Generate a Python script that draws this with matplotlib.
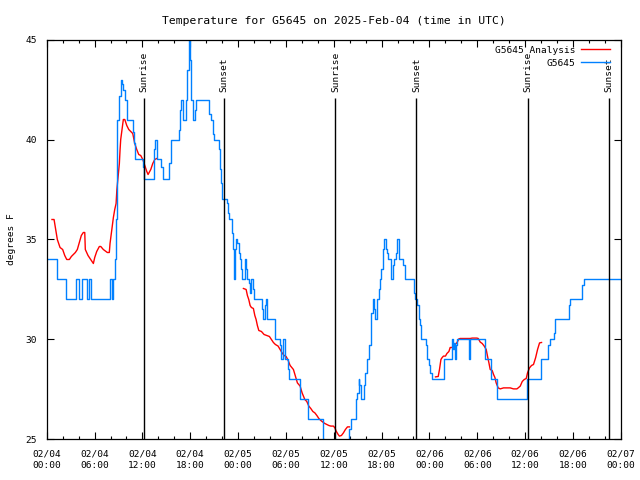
import numpy as np
import matplotlib
matplotlib.use("Agg")
import matplotlib.pyplot as plt

# hours since 2025-02-04 00:00 UTC
blue_hours = [0, 1.29, 2.36, 3.61, 4.05, 4.37, 4.99, 5.24, 5.5, 7.94, 8.13, 8.26, 8.57, 8.63,
              8.78, 9.03, 9.28, 9.45, 9.54, 9.79, 10.04, 10.11, 10.87, 10.95, 11.04, 12.12,
              12.21, 13.46, 13.55, 13.8, 14.38, 14.63, 15.38, 15.63, 16.56, 16.72, 16.81,
              17.06, 17.48, 17.64, 17.82, 17.89, 17.98, 18.07, 18.14, 18.39, 18.57, 18.73,
              20.4, 20.65, 20.9, 20.99, 21.66, 21.74, 21.91, 22.03, 22.58, 22.75, 22.91,
              23.21, 23.41, 23.54, 23.63, 23.75, 23.91, 24.09, 24.25, 24.38, 24.54, 24.88,
              25.01, 25.17, 25.34, 25.51, 25.6, 25.85, 26.01, 27.05, 27.1, 27.43, 27.52,
              27.68, 28.61, 29.27, 29.44, 29.61, 29.94, 30.28, 30.4, 31.78, 32.82, 34.63,
              34.75, 37.97, 38.14, 38.81, 38.97, 39.15, 39.22, 39.47, 39.81, 39.98, 40.15,
              40.48, 40.65, 40.73, 40.9, 41.07, 41.23, 41.48, 41.66, 41.82, 41.98, 42.16,
              42.32, 42.57, 42.66, 42.82, 43.16, 43.24, 43.41, 43.58, 43.83, 43.99, 44.17,
              44.24, 44.74, 44.92, 46.09, 46.25, 46.5, 46.68, 46.84, 47.0, 47.59, 47.75,
              47.93, 48.09, 48.26, 49.85, 50.85, 50.94, 51.02, 51.19, 51.27, 51.44, 52.95,
              53.02, 53.11, 54.96, 55.71, 55.78, 56.46, 60.23, 61.98, 62.9, 63.06, 63.65,
              63.81, 65.5, 65.57, 67.16, 67.33, 72]
blue_temps = [34, 33, 32, 33, 32, 33, 32, 33, 32, 33, 32, 33, 34, 36,
              41, 42.2, 43, 42.8, 42.5, 42, 41.3, 41, 40.4, 39.8, 39, 38.6,
              38, 39.5, 40, 39, 38.6, 38, 38.8, 40, 40.5, 41.5, 42,
              41, 42, 43.5, 44.5, 45, 44, 43, 42, 41, 41.5, 42,
              41.3, 41, 40.3, 40, 39.5, 38.5, 37.8, 37, 36.8, 36.3, 36,
              35.3, 34.5, 33, 34.5, 35, 34.8, 34.3, 34, 33.5, 33, 34,
              33.5, 33, 32.8, 32.3, 33, 32.5, 32, 31.5, 31, 31.7, 32,
              31, 30, 29.7, 29, 30, 29, 28.5, 28, 27, 26, 25,
              24, 25.5, 26, 27, 27.3, 28, 27.7, 27, 27.7, 28.3, 29,
              29.7, 30.5, 31.3, 32, 31.5, 31, 32, 32.5, 33, 33.5, 34.5,
              35, 34.5, 34.3, 34, 33.3, 33, 33.7, 34, 34.3, 35, 34.3,
              34, 33.7, 33, 32.3, 32, 31.7, 31, 30.7, 30, 29.7, 29,
              28.7, 28.3, 28, 29, 30, 29.5, 29.8, 29, 29.7, 30, 29.5,
              29, 30, 29, 28.3, 28, 27, 28, 29, 29.7, 30, 30.3,
              31, 31.7, 32, 32.7, 33, 33]

# analysis series, nan marks a gap
red_hours = [0.66, 0.92, 1.08, 1.33, 1.5, 1.67, 2.0, 2.26, 2.51, 2.84, 3.09, 3.59, 3.84, 4.09,
             4.34, 4.59, 4.77, 4.84, 5.18, 5.52, 5.85, 6.02, 6.27, 6.6, 6.78, 7.1, 7.6, 7.85,
             7.94, 8.19, 8.36, 8.53, 8.7, 8.8, 8.99, 9.11, 9.2, 9.28, 9.45, 9.61, 9.79, 10.04,
             10.29, 10.54, 10.79, 11.04, 11.29, 11.54, 11.79, 12.05, 12.3, 12.55, 12.71, 13.05,
             13.3, 13.55, 13.8, np.nan,
             24.67, 25.01, 25.17, 25.34, 25.51, 25.67, 25.92, 26.1, 26.26, 26.42, 26.6, 26.93,
             27.26, 27.6, 27.93, 28.18, 28.43, 28.68, 29.02, 29.27, 29.52, 29.77, 30.03, 30.28,
             30.53, 30.94, 31.19, 31.44, 31.78, 32.03, 32.37, 32.62, 32.87, 33.12, 33.38, 33.63,
             33.88, 34.13, 34.38, 34.63, 34.88, 35.13, 35.38, 35.63, 35.96, 36.14, 36.3, 36.55,
             36.71, 36.96, 37.21, 37.46, 37.72, 37.97, np.nan,
             48.76, 49.1, 49.26, 49.44, 49.6, 49.76, 50.01, 50.19, 50.44, 50.6, 50.85, 51.02,
             51.19, 51.44, 51.69, 51.86, 53.11, 53.36, 53.95, 54.12, 54.37, 54.62, 54.87, 55.12,
             55.28, 55.46, 55.62, 55.87, 56.04, 56.21, 56.37, 56.62, 56.88, 57.29, 58.13, 58.54,
             58.97, 59.13, 59.39, 59.64, 59.89, 60.14, 60.3, 60.55, 60.8, 61.05, 61.31, 61.56,
             61.81, 62.06]
red_temps = [36.0, 36.0, 35.6, 35.0, 34.8, 34.6, 34.5, 34.2, 34.0, 34.0, 34.15, 34.35, 34.5, 34.85,
             35.2, 35.35, 35.35, 34.5, 34.2, 34.0, 33.8, 34.1, 34.4, 34.65, 34.65, 34.5, 34.35, 34.35,
             34.8, 35.6, 36.1, 36.5, 36.8, 37.5, 38.3, 38.8, 39.5, 40.0, 40.5, 41.0, 41.0, 40.7,
             40.5, 40.4, 40.3, 39.8, 39.5, 39.25, 39.2, 39.0, 38.7, 38.4, 38.25, 38.5,
             38.8, 39.0, 39.05, np.nan,
             32.55, 32.5, 32.2, 32.0, 31.7, 31.6, 31.55, 31.2, 31.0, 30.7, 30.45, 30.4,
             30.25, 30.2, 30.15, 30.0, 29.85, 29.75, 29.67, 29.5, 29.33, 29.2, 29.15, 28.95,
             28.7, 28.5, 28.17, 27.83, 27.67, 27.33, 27.0, 26.9, 26.67, 26.55, 26.4, 26.33,
             26.2, 26.05, 25.95, 25.87, 25.8, 25.75, 25.7, 25.67, 25.67, 25.58, 25.42, 25.25,
             25.17, 25.2, 25.33, 25.5, 25.63, 25.63, np.nan,
             28.13, 28.15, 28.5, 29.0, 29.1, 29.17, 29.17, 29.3, 29.4, 29.6, 29.6, 29.7,
             29.75, 29.83, 30.03, 30.05, 30.05, 30.07, 30.07, 30.05, 29.87, 29.8, 29.67, 29.5,
             29.17, 28.83, 28.5, 28.45, 28.25, 28.1, 27.83, 27.58, 27.53, 27.58, 27.58, 27.53,
             27.53, 27.58, 27.67, 27.9, 28.0, 28.05, 28.33, 28.58, 28.7, 28.75, 29.08, 29.5,
             29.83, 29.85]

sunrise_hours = [12.21, 36.21, 60.3]
sunset_hours = [22.28, 46.37, 70.46]

tick_hours = list(range(0, 73, 6))
tick_labels = ["02/04\n00:00", "02/04\n06:00", "02/04\n12:00", "02/04\n18:00",
               "02/05\n00:00", "02/05\n06:00", "02/05\n12:00", "02/05\n18:00",
               "02/06\n00:00", "02/06\n06:00", "02/06\n12:00", "02/06\n18:00",
               "02/07\n00:00"]

plt.rcParams['font.family'] = ['DejaVu Sans Mono']
plt.rcParams['font.size'] = 6.8

fig = plt.figure(figsize=(6.4, 4.8), dpi=100)
ax = fig.add_axes([0.073, 0.0844, 0.897, 0.8333])

ax.plot(red_hours, red_temps, color='#ff0000', lw=1.0, label='G5645 Analysis')
ax.plot(blue_hours, blue_temps, color='#0080ff', lw=1.0, drawstyle='steps-post', label='G5645')

for t in sunrise_hours:
    ax.vlines(t, 25, 42.1, color='black', lw=1.0)
    ax.text(t, 42.4, 'Sunrise', rotation=90, ha='center', va='bottom')
for t in sunset_hours:
    ax.vlines(t, 25, 42.1, color='black', lw=1.0)
    ax.text(t, 42.4, 'Sunset', rotation=90, ha='center', va='bottom')

ax.set_xlim(0, 72)
ax.set_ylim(25, 45)
ax.set_xticks(tick_hours)
ax.set_xticklabels(tick_labels, linespacing=1.45)
ax.set_xticks(range(0, 73, 2), minor=True)
ax.set_yticks([25, 30, 35, 40, 45])
ax.tick_params(which='both', direction='in', top=True, right=True, color='black', width=0.8)
ax.tick_params(which='major', length=5, pad=7)
ax.tick_params(which='minor', length=2.5)
for s in ax.spines.values():
    s.set_linewidth(0.9)

ax.set_ylabel('degrees F', labelpad=7)
ax.set_title('Temperature for G5645 on 2025-Feb-04 (time in UTC)', pad=11)

ax.legend(loc='upper right', bbox_to_anchor=(0.982, 0.985), markerfirst=False, frameon=False,
          borderaxespad=0, borderpad=0, handlelength=3.1, handletextpad=0.6, labelspacing=0.45)

fig.savefig('out.png', dpi=100)
